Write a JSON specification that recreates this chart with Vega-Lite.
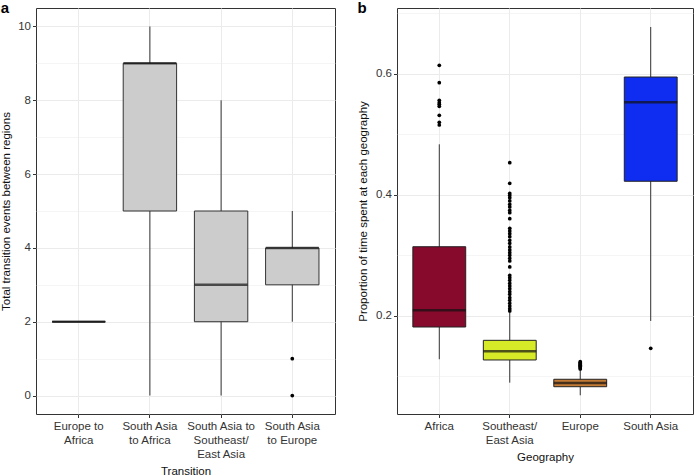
{
  "$schema": "https://vega.github.io/schema/vega-lite/v6.json",
  "background": "white",
  "padding": {"left": 0, "top": 0, "right": 1, "bottom": 0},
  "spacing": 21,
  "datasets": {
    "statsA": [
      {"transition": "Europe to Africa", "lower": 2, "q1": 2, "median": 2, "q3": 2, "upper": 2},
      {"transition": "South Asia to Africa", "lower": 0, "q1": 5, "median": 9, "q3": 9, "upper": 10},
      {"transition": "South Asia to Southeast/East Asia", "lower": 0, "q1": 2, "median": 3, "q3": 5, "upper": 8},
      {"transition": "South Asia to Europe", "lower": 2, "q1": 3, "median": 4, "q3": 4, "upper": 5}
    ],
    "outA": [
      {"transition": "South Asia to Europe", "value": 1},
      {"transition": "South Asia to Europe", "value": 0}
    ],
    "statsB": [
      {"geography": "Africa", "lower": 0.128, "q1": 0.1813, "median": 0.2089, "q3": 0.314, "upper": 0.4833},
      {"geography": "Southeast/East Asia", "lower": 0.0893, "q1": 0.1268, "median": 0.1411, "q3": 0.1593, "upper": 0.2066},
      {"geography": "Europe", "lower": 0.0684, "q1": 0.0826, "median": 0.0888, "q3": 0.0949, "upper": 0.1107},
      {"geography": "South Asia", "lower": 0.1913, "q1": 0.4222, "median": 0.5527, "q3": 0.5945, "upper": 0.6772}
    ],
    "outB": [
      {"geography": "Africa", "value": 0.6139},
      {"geography": "Africa", "value": 0.5851},
      {"geography": "Africa", "value": 0.556},
      {"geography": "Africa", "value": 0.5521},
      {"geography": "Africa", "value": 0.5494},
      {"geography": "Africa", "value": 0.5461},
      {"geography": "Africa", "value": 0.5312},
      {"geography": "Africa", "value": 0.5197},
      {"geography": "Africa", "value": 0.5152},
      {"geography": "Southeast/East Asia", "value": 0.4529},
      {"geography": "Southeast/East Asia", "value": 0.4188},
      {"geography": "Southeast/East Asia", "value": 0.4023},
      {"geography": "Southeast/East Asia", "value": 0.399},
      {"geography": "Southeast/East Asia", "value": 0.395},
      {"geography": "Southeast/East Asia", "value": 0.3896},
      {"geography": "Southeast/East Asia", "value": 0.3841},
      {"geography": "Southeast/East Asia", "value": 0.3797},
      {"geography": "Southeast/East Asia", "value": 0.3742},
      {"geography": "Southeast/East Asia", "value": 0.3703},
      {"geography": "Southeast/East Asia", "value": 0.3603},
      {"geography": "Southeast/East Asia", "value": 0.3444},
      {"geography": "Southeast/East Asia", "value": 0.34},
      {"geography": "Southeast/East Asia", "value": 0.3355},
      {"geography": "Southeast/East Asia", "value": 0.3306},
      {"geography": "Southeast/East Asia", "value": 0.3246},
      {"geography": "Southeast/East Asia", "value": 0.3197},
      {"geography": "Southeast/East Asia", "value": 0.3136},
      {"geography": "Southeast/East Asia", "value": 0.3086},
      {"geography": "Southeast/East Asia", "value": 0.3041},
      {"geography": "Southeast/East Asia", "value": 0.2998},
      {"geography": "Southeast/East Asia", "value": 0.2949},
      {"geography": "Southeast/East Asia", "value": 0.2904},
      {"geography": "Southeast/East Asia", "value": 0.2805},
      {"geography": "Southeast/East Asia", "value": 0.2668},
      {"geography": "Southeast/East Asia", "value": 0.2628},
      {"geography": "Southeast/East Asia", "value": 0.2585},
      {"geography": "Southeast/East Asia", "value": 0.2535},
      {"geography": "Southeast/East Asia", "value": 0.2491},
      {"geography": "Southeast/East Asia", "value": 0.2446},
      {"geography": "Southeast/East Asia", "value": 0.2397},
      {"geography": "Southeast/East Asia", "value": 0.2354},
      {"geography": "Southeast/East Asia", "value": 0.2298},
      {"geography": "Southeast/East Asia", "value": 0.2255},
      {"geography": "Southeast/East Asia", "value": 0.2205},
      {"geography": "Southeast/East Asia", "value": 0.216},
      {"geography": "Southeast/East Asia", "value": 0.2116},
      {"geography": "Southeast/East Asia", "value": 0.2078},
      {"geography": "Europe", "value": 0.124},
      {"geography": "Europe", "value": 0.1225},
      {"geography": "Europe", "value": 0.121},
      {"geography": "Europe", "value": 0.1195},
      {"geography": "Europe", "value": 0.118},
      {"geography": "Europe", "value": 0.1165},
      {"geography": "Europe", "value": 0.115},
      {"geography": "Europe", "value": 0.1135},
      {"geography": "Europe", "value": 0.112},
      {"geography": "South Asia", "value": 0.146}
    ]
  },
  "hconcat": [
    {
      "width": 299,
      "height": 406,
      "title": {"text": "a", "anchor": "start", "frame": "bounds", "fontSize": 15, "fontWeight": "bold", "baseline": "alphabetic", "offset": -20, "color": "black"},
      "layer": [
        {
          "data": {"name": "statsA"},
          "mark": {"type": "rule", "color": "#333", "strokeWidth": 1},
          "encoding": {
            "x": {
              "field": "transition", "type": "nominal", "title": "Transition",
              "scale": {"domain": ["Europe to Africa", "South Asia to Africa", "South Asia to Southeast/East Asia", "South Asia to Europe"], "paddingInner": 0.25, "paddingOuter": 0.225},
              "axis": {
                "labelAngle": 0,
                "labelExpr": "datum.label == 'Europe to Africa' ? ['Europe to', 'Africa'] : datum.label == 'South Asia to Africa' ? ['South Asia', 'to Africa'] : datum.label == 'South Asia to Southeast/East Asia' ? ['South Asia to', 'Southeast/', 'East Asia'] : ['South Asia', 'to Europe']"
              }
            },
            "y": {
              "field": "lower", "type": "quantitative", "title": "Total transition events between regions",
              "scale": {"domain": [-0.5, 10.5], "nice": false, "zero": false},
              "axis": {
                "values": [0, 1, 2, 3, 4, 5, 6, 7, 8, 9, 10],
                "titlePadding": 6,
                "labelExpr": "datum.value % 2 == 0 ? datum.label : ''",
                "gridWidth": {"condition": {"test": "datum.value % 2 == 0", "value": 1}, "value": 0.5},
                "tickOpacity": {"condition": {"test": "datum.value % 2 == 0", "value": 1}, "value": 0}
              }
            },
            "y2": {"field": "upper"}
          }
        },
        {
          "data": {"name": "statsA"},
          "mark": {"type": "bar", "fill": "#CCCCCC", "stroke": "#333", "strokeWidth": 1},
          "encoding": {
            "x": {"field": "transition", "type": "nominal", "title": "Transition"},
            "y": {"field": "q1", "type": "quantitative", "title": "Total transition events between regions"},
            "y2": {"field": "q3"}
          }
        },
        {
          "data": {"name": "statsA"},
          "mark": {"type": "tick", "color": "#111", "size": 53, "thickness": 2.5},
          "encoding": {
            "x": {"field": "transition", "type": "nominal", "title": "Transition"},
            "y": {"field": "median", "type": "quantitative", "title": "Total transition events between regions"}
          }
        },
        {
          "data": {"name": "outA"},
          "mark": {"type": "point", "filled": true, "color": "black", "opacity": 1, "size": 14},
          "encoding": {
            "x": {"field": "transition", "type": "nominal", "title": "Transition"},
            "y": {"field": "value", "type": "quantitative", "title": "Total transition events between regions"}
          }
        }
      ]
    },
    {
      "width": 296,
      "height": 406,
      "title": {"text": "b", "anchor": "start", "frame": "bounds", "fontSize": 15, "fontWeight": "bold", "baseline": "alphabetic", "offset": -20, "color": "black"},
      "layer": [
        {
          "data": {"name": "statsB"},
          "mark": {"type": "rule", "color": "#333", "strokeWidth": 1},
          "encoding": {
            "x": {
              "field": "geography", "type": "nominal", "title": "Geography",
              "scale": {"domain": ["Africa", "Southeast/East Asia", "Europe", "South Asia"], "paddingInner": 0.25, "paddingOuter": 0.225},
              "axis": {
                "labelAngle": 0,
                "labelExpr": "datum.label == 'Southeast/East Asia' ? ['Southeast/', 'East Asia'] : datum.label"
              }
            },
            "y": {
              "field": "lower", "type": "quantitative", "title": "Proportion of time spent at each geography",
              "scale": {"domain": [0.0375, 0.7086], "nice": false, "zero": false},
              "axis": {
                "values": [0.1, 0.2, 0.3, 0.4, 0.5, 0.6, 0.7],
                "format": ".1f",
                "labelExpr": "round(datum.value * 10) % 2 == 0 ? datum.label : ''",
                "gridWidth": {"condition": {"test": "round(datum.value * 10) % 2 == 0", "value": 1}, "value": 0.5},
                "tickOpacity": {"condition": {"test": "round(datum.value * 10) % 2 == 0", "value": 1}, "value": 0}
              }
            },
            "y2": {"field": "upper"}
          }
        },
        {
          "data": {"name": "statsB"},
          "mark": {"type": "bar", "stroke": "#222", "strokeWidth": 1},
          "encoding": {
            "x": {"field": "geography", "type": "nominal", "title": "Geography"},
            "y": {"field": "q1", "type": "quantitative", "title": "Proportion of time spent at each geography"},
            "y2": {"field": "q3"},
            "color": {
              "field": "geography", "type": "nominal", "legend": null,
              "scale": {"domain": ["Africa", "Southeast/East Asia", "Europe", "South Asia"], "range": ["#870A2C", "#D7EA28", "#C27A35", "#0F2DF0"]}
            }
          }
        },
        {
          "data": {"name": "statsB"},
          "mark": {"type": "tick", "color": "#111", "size": 53, "thickness": 2.5},
          "encoding": {
            "x": {"field": "geography", "type": "nominal", "title": "Geography"},
            "y": {"field": "median", "type": "quantitative", "title": "Proportion of time spent at each geography"}
          }
        },
        {
          "data": {"name": "outB"},
          "mark": {"type": "point", "filled": true, "color": "black", "opacity": 1, "size": 14},
          "encoding": {
            "x": {"field": "geography", "type": "nominal", "title": "Geography"},
            "y": {"field": "value", "type": "quantitative", "title": "Proportion of time spent at each geography"}
          }
        }
      ]
    }
  ],
  "config": {
    "font": "Liberation Sans",
    "view": {"stroke": "#333", "strokeWidth": 1},
    "title": {"font": "Liberation Sans"},
    "axis": {
      "domain": false,
      "grid": true,
      "gridColor": "#EBEBEB",
      "tickColor": "#333",
      "tickSize": 3.5,
      "labelColor": "#333",
      "labelFont": "Liberation Sans",
      "labelFontSize": 11.5,
      "titleFont": "Liberation Sans",
      "titleFontSize": 11.5,
      "titleFontWeight": "normal",
      "titleColor": "#111"
    },
    "axisX": {"labelPadding": 3, "titlePadding": 5, "labelLineHeight": 14, "bandPosition": 0.5},
    "axisY": {"labelPadding": 2, "titlePadding": 7}
  }
}
